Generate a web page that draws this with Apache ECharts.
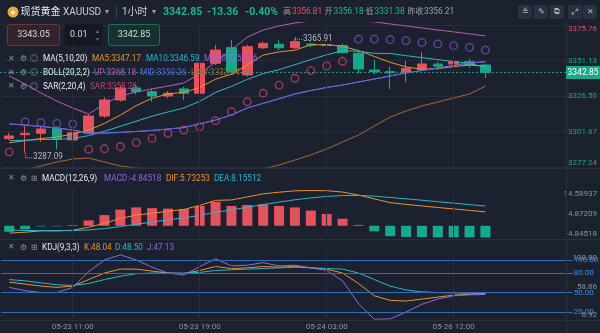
<!DOCTYPE html>
<html><head><meta charset="utf-8">
<script src="https://cdn.jsdelivr.net/npm/echarts@6/dist/echarts.min.js"></script>
<style>html,body{margin:0;padding:0;background:#1c2130;}#c{width:600px;height:333px;}</style>
</head><body><div id="c"></div>
<script>
// ---------- data ----------
const times = ['05-23 07:00','05-23 08:00','05-23 09:00','05-23 10:00','05-23 11:00','05-23 12:00','05-23 13:00','05-23 14:00','05-23 15:00','05-23 16:00','05-23 17:00','05-23 18:00','05-23 19:00','05-23 20:00','05-23 21:00','05-23 22:00','05-23 23:00','05-24 00:00','05-24 01:00','05-24 02:00','05-24 03:00','05-24 04:00','05-26 06:00','05-26 07:00','05-26 08:00','05-26 09:00','05-26 10:00','05-26 11:00','05-26 12:00','05-26 13:00','05-26 14:00'];
const emptySlots = ['05-26 15:00','05-26 16:00','05-26 17:00','05-26 18:00','05-26 19:00'];
const xTickLabels = ['05-23 11:00','05-23 19:00','05-24 03:00','05-26 12:00'];
const open  = [3296.9,3299.7,3300.6,3304.1,3296.0,3300.6,3312.6,3323.7,3332.1,3329.5,3326.5,3331.4,3328.4,3349.2,3360.0,3341.1,3360.0,3362.4,3360.0,3362.5,3362.0,3361.5,3356.18,3344.5,3343.4,3342.9,3345.0,3348.6,3348.7,3350.3,3348.0];
const close = [3298.8,3300.6,3303.6,3296.4,3301.0,3312.6,3323.7,3332.1,3329.5,3326.5,3328.4,3328.4,3349.2,3358.4,3343.4,3360.7,3363.0,3360.0,3364.2,3361.8,3361.5,3356.6,3345.2,3343.4,3342.6,3345.7,3348.7,3347.2,3350.3,3348.0,3342.85];
const low   = [3296.0,3287.09,3294.8,3289.5,3295.0,3300.0,3311.5,3322.5,3327.5,3322.5,3325.0,3323.8,3324.9,3348.0,3341.1,3340.0,3359.0,3358.4,3359.0,3360.5,3360.8,3356.0,3342.2,3341.5,3331.38,3336.0,3344.0,3344.5,3347.5,3346.0,3339.2];
const high  = [3301.0,3305.5,3306.0,3305.0,3302.5,3314.0,3325.6,3334.0,3334.5,3332.0,3330.0,3333.0,3352.9,3362.0,3365.4,3362.0,3364.5,3365.4,3365.91,3363.5,3362.5,3363.0,3357.5,3351.5,3346.8,3350.8,3356.81,3350.3,3351.5,3352.5,3349.0];
const ma5   = [3294.0,3295.5,3297.0,3298.0,3300.1,3302.8,3307.5,3313.2,3319.8,3324.9,3328.0,3329.0,3332.4,3338.2,3341.6,3348.0,3354.9,3357.1,3358.3,3362.0,3362.1,3361.0,3358.0,3353.9,3349.9,3346.7,3345.0,3345.5,3346.9,3348.0,3347.17];
const ma10  = [3295.5,3295.8,3296.3,3296.4,3297.0,3299.0,3302.0,3305.5,3309.0,3312.5,3315.4,3318.2,3322.8,3329.0,3333.2,3338.0,3342.0,3344.8,3348.2,3351.8,3355.1,3357.9,3357.6,3356.1,3356.0,3354.5,3353.1,3351.8,3350.4,3349.0,3346.59];
const ma20  = [3307.1,3306.4,3305.3,3304.3,3302.9,3300.8,3300.8,3301.2,3301.9,3302.6,3303.6,3304.6,3307.1,3309.8,3313.3,3318.2,3321.4,3324.6,3327.9,3330.3,3332.4,3334.1,3336.2,3338.3,3340.4,3342.5,3344.2,3345.9,3347.7,3349.4,3350.26];
const bollUp  = [3340.4,3334.8,3328.6,3323.0,3318.2,3314.0,3321.0,3326.5,3329.3,3331.4,3333.4,3335.5,3341.8,3350.1,3358.4,3367.4,3372.3,3375.1,3377.2,3378.6,3379.3,3379.3,3378.6,3377.9,3376.5,3375.1,3373.7,3372.3,3371.0,3369.6,3368.18];
const bollLow = [3273.8,3275.2,3277.9,3280.7,3282.8,3283.5,3280.7,3277.9,3276.5,3275.9,3275.2,3274.5,3273.8,3272.4,3272.4,3273.8,3275.9,3278.6,3282.1,3285.6,3289.7,3294.6,3299.4,3305.7,3311.9,3316.1,3319.6,3322.3,3325.1,3327.9,3333.34];
const sar   = [3287.8,3308.5,3308.0,3307.5,3307.0,3289.5,3289.9,3291.3,3294.1,3297.1,3300.6,3302.9,3305.2,3309.4,3315.6,3322.5,3328.4,3334.1,3338.8,3344.1,3347.3,3350.6,3365.91,3365.91,3365.6,3364.9,3363.7,3362.6,3361.4,3360.2,3358.26];
const macd  = [-2.5,-1.4,-0.25,-0.2,0.25,2.2,4.4,6.7,7.6,7.3,7.1,6.9,8.2,9.9,8.2,8.6,8.9,8.2,7.6,6.3,4.9,2.9,0.35,-2.3,-4.3,-4.6,-4.7,-4.8,-4.8,-4.8,-4.84518];
const dif   = [-3.03,-2.66,-2.11,-2.11,-1.86,-0.61,1.04,3.03,4.43,5.19,5.98,6.74,8.42,10.51,10.68,11.96,13.22,13.89,14.45,14.58937,14.5,13.96,12.72,11.11,9.57,8.85,8.21,7.56,6.96,6.36,5.73253];
const dea   = [-1.78,-1.96,-1.99,-2.01,-1.98,-1.71,-1.16,-0.32,0.63,1.54,2.43,3.29,4.32,5.56,6.58,7.66,8.77,9.79,10.74,11.53,12.14,12.51,12.55,12.26,11.72,11.15,10.56,9.96,9.36,8.76,8.15512];
const kLine = [66,63,60,58,60,70,80,86,86,83,80,79,84,90,87,88,90,89,90,88,86,80,64,45,38,37,40,43,46,47.5,48.04];
const dLine = [70,68,65,62,61,64,70,75,79,80,80,80,81,84,85,86,87,88,89,88,87,86,80,70,60,54,51,50,49.5,49,48.50];
const jLine = [58,53,50,50,58,82,100,108,100,89,80,77,90,102,91,92,96,91,92,88,84,68,33,8.92,9.5,20,32,40,45,46.5,47.13];
const priceTicks = [3277.24, 3301.87, 3326.50, 3351.13, 3375.76];
const macdTicks = [-4.84518, 4.87209, 14.58937];
const kdjTicks = [8.92, 58.86, 108.80];
const kdjLevels = [100, 80, 50, 20];
const lastPrice = 3342.85, prevClose = 3356.21;
const hiMark = {idx: 18, val: 3365.91}, loMark = {idx: 1, val: 3287.09};

// ---------- style ----------
const F = 'Roboto, "Noto Sans CJK SC", sans-serif';
const RED = '#e5525e', GREEN = '#16a98a', GRID = '#262c3a', GRAY = '#8c919c';
const C_MA5 = '#e8922e', C_MA10 = '#2bb5c9', C_MA20 = '#9466d6', C_UP = '#b65db5', C_MID = '#5b67d9', C_LOW = '#a8652c', C_SAR = '#c8406a', C_SARU = '#6e56c0';
const GL = 1.3, GR = 26.3, AXOFF = -7.7;

const cats = times.concat(emptySlots);
const candle = times.map((t, i) => [open[i], close[i], low[i], high[i]]);
const sarAbove = sar.map((v, i) => v > close[i] ? v : '-');
const sarBelow = sar.map((v, i) => v <= close[i] ? v : '-');
const vIdx = xTickLabels.map(t => cats.indexOf(t));
const vLines = vIdx.map(i => ({xAxis: i, label: {show: false}, lineStyle: {color: GRID, type: 'solid', width: 1}}));

function xAx(gi, showLabel) {
  return {type: 'category', gridIndex: gi, data: cats, boundaryGap: true,
    axisLine: {show: false}, axisTick: {show: false}, splitLine: {show: false},
    axisLabel: {show: showLabel, fontSize: 8, color: GRAY, margin: 4, fontFamily: F,
      interval: (idx) => vIdx.includes(idx), formatter: (v) => xTickLabels.includes(v) ? v : ''}};
}
function yAx(gi, min, max, interval, dec, colorFn, split) {
  return {type: 'value', gridIndex: gi, position: 'right', offset: AXOFF, min, max, interval, scale: true,
    axisLine: {show: false}, axisTick: {show: false},
    splitLine: {show: split, lineStyle: {color: GRID, width: 1}},
    axisLabel: {align: 'right', margin: 32, fontSize: 8, fontFamily: F, color: colorFn || GRAY,
      formatter: (v) => v.toFixed(dec), verticalAlignMinLabel: 'bottom', verticalAlignMaxLabel: 'top',
      showMinLabel: true, showMaxLabel: true}};
}
function line(name, data, color, xi, extra) {
  return Object.assign({name, type: 'line', data, xAxisIndex: xi, yAxisIndex: xi, symbol: 'none',
    lineStyle: {color, width: 1}, itemStyle: {color}, silent: true, animation: false}, extra || {});
}

const chart = echarts.init(document.getElementById('c'), null, {renderer: 'canvas'});
chart.setOption({
  backgroundColor: '#1c2130',
  animation: false,
  grid: [
    {left: GL, right: GR, top: 25, height: 142},
    {left: GL, right: GR, top: 190.5, height: 47},
    {left: GL, right: GR, top: 254.3, height: 65}
  ],
  xAxis: [xAx(0, false), xAx(1, false), xAx(2, true)],
  yAxis: [
    yAx(0, priceTicks[0], priceTicks[4], priceTicks[1] - priceTicks[0], 2, (v) => parseFloat(v) > prevClose ? RED : GREEN, true),
    yAx(1, macdTicks[0], macdTicks[2], macdTicks[1] - macdTicks[0], 5, null, false),
    yAx(2, kdjTicks[0], kdjTicks[2], kdjTicks[1] - kdjTicks[0], 2, null, false)
  ],
  series: [
    {name: 'K线', type: 'candlestick', data: candle, xAxisIndex: 0, yAxisIndex: 0, barWidth: 10,
      itemStyle: {color: RED, color0: GREEN, borderColor: RED, borderColor0: GREEN, borderWidth: 1},
      markLine: {silent: true, symbol: 'none', animation: false, data: vLines}},
    line('MA5', ma5, C_MA5, 0),
    line('MA10', ma10, C_MA10, 0),
    line('MA20', ma20, C_MA20, 0),
    line('UP', bollUp, C_UP, 0, {clip: false}),
    line('MID', ma20, C_MID, 0),
    line('LOW', bollLow, C_LOW, 0),
    {name: 'SAR↑', type: 'scatter', data: sarAbove, xAxisIndex: 0, yAxisIndex: 0, symbol: 'circle', symbolSize: 7.5,
      itemStyle: {color: 'rgba(0,0,0,0)', borderColor: C_SARU, borderWidth: 1.3}, silent: true},
    {name: 'SAR↓', type: 'scatter', data: sarBelow, xAxisIndex: 0, yAxisIndex: 0, symbol: 'circle', symbolSize: 7.5,
      itemStyle: {color: 'rgba(0,0,0,0)', borderColor: C_SAR, borderWidth: 1.3}, silent: true},
    {name: 'MACD', type: 'bar', data: macd, xAxisIndex: 1, yAxisIndex: 1, barWidth: 10,
      itemStyle: {color: (p) => p.value >= 0 ? RED : GREEN},
      markLine: {silent: true, symbol: 'none', animation: false, data: vLines}},
    line('DIF', dif, C_MA5, 1),
    line('DEA', dea, C_MA10, 1),
    line('K', kLine, C_MA5, 2, {markLine: {silent: true, symbol: 'none', animation: false,
      data: vLines.concat(kdjLevels.map(v => ({yAxis: v, lineStyle: {color: '#2f6fb8', type: 'solid', width: 1.2},
        label: {show: true, position: 'end', distance: 1, color: '#3b8ee6', fontSize: 8, fontFamily: F, formatter: () => v.toFixed(2)}})))}}),
    line('D', dLine, C_MA10, 2),
    line('J', jLine, C_MA20, 2)
  ]
});

// ---------- overlay texts ----------
function T(x, y, text, fill, size, o) {
  o = o || {};
  return {type: 'text', z: 120, silent: true, style: {x, y, text, fill, font: (o.w || 'normal') + ' ' + size + 'px ' + F,
    textAlign: o.a || 'left', align: o.a || 'left', textVerticalAlign: 'middle', verticalAlign: 'middle'}};
}
function R(x, y, w, h, fill, stroke, r) {
  return {type: 'rect', z: 110, silent: true, shape: {x, y, width: w, height: h, r: r || 0}, style: {fill, stroke: stroke || null, lineWidth: 1}};
}
function L(x1, y1, x2, y2, stroke, dash, z) {
  return {type: 'line', z: z || 105, silent: true, shape: {x1, y1, x2, y2}, style: {stroke, lineWidth: 1, lineDash: dash || null}};
}
const g = [];
g.push(R(0, 0, 600, 22, '#1c2130'));
// header
g.push({type: 'circle', z: 120, shape: {cx: 13, cy: 12, r: 5.5}, style: {fill: '#e8a93b'}});
g.push(T(13, 12.3, '◆', '#fff3d0', 5, {a: 'center'}));
g.push(T(20.5, 12, '现货黄金', '#e6e8ec', 10));
g.push(T(63, 12, 'XAUUSD', '#c9ccd3', 10));
g.push(T(107, 12, '▾', '#9aa0aa', 8, {a: 'center'}));
g.push(L(116.5, 6, 116.5, 18, '#3a4150', null, 120));
g.push(T(122, 12, '1小时', '#c9ccd3', 10));
g.push(T(154, 12, '▾', '#9aa0aa', 8, {a: 'center'}));
g.push(T(163, 12, '3342.85', '#1db48f', 10.5, {w: 'bold'}));
g.push(T(207, 12, '-13.36', '#1db48f', 10.5, {w: 'bold'}));
g.push(T(245, 12, '-0.40%', '#1db48f', 10.5, {w: 'bold'}));
g.push(T(283, 12, '高', '#9aa0aa', 8));
g.push(T(292, 12, '3356.81', RED, 8.3));
g.push(T(324.5, 12, '开', '#9aa0aa', 8));
g.push(T(333.5, 12, '3356.18', '#1db48f', 8.3));
g.push(T(365.5, 12, '低', '#9aa0aa', 8));
g.push(T(374.5, 12, '3331.38', '#1db48f', 8.3));
g.push(T(407.5, 12, '昨收', '#9aa0aa', 8));
g.push(T(424, 12, '3356.21', '#9aa0aa', 8.3));
[[518, '≙'], [534, '✎'], [550, '⧉'], [568, '⤢'], [583, '✕']].forEach(([x, s]) => {
  g.push(R(x, 5, 14, 14, '#2a3141', null, 2));
  g.push(T(x + 7, 12, s, '#aeb3bd', 8, {a: 'center'}));
});
// input boxes
g.push(R(7.5, 24.5, 52, 21, '#35232c', '#6a3440', 2));
g.push(T(33.5, 35, '3343.05', '#d9dbe0', 9, {a: 'center'}));
g.push(R(64.5, 24.5, 38, 21, '#141821', null, 2));
g.push(T(70, 35, '0.01', '#d9dbe0', 9));
g.push(T(97, 31, '▴', '#6c717c', 6, {a: 'center'}));
g.push(T(97, 39, '▾', '#6c717c', 6, {a: 'center'}));
g.push(R(108.5, 24.5, 51, 21, '#163230', '#1f6c5e', 2));
g.push(T(134, 35, '3342.85', '#d9dbe0', 9, {a: 'center'}));
// indicator legends
function icons(y, three) {
  g.push(T(11, y, '✕', GRAY, 7.5, {a: 'center'}));
  g.push(T(23, y, '⚙', GRAY, 8, {a: 'center'}));
  g.push(T(34, y, three ? '⊞' : '◎', GRAY, 8, {a: 'center'}));
}
icons(59, false);
g.push(T(43, 59, 'MA(5,10,20)', '#e6e8ec', 8.2));
g.push(T(92, 59, 'MA5:3347.17', C_MA5, 8.2));
g.push(T(146, 59, 'MA10:3346.59', C_MA10, 8.2));
g.push(T(204, 59, 'MA20:3350.26', C_MA20, 8.2));
icons(73, false);
g.push(T(43, 73, 'BOLL(20,2,2)', '#e6e8ec', 8.2));
g.push(T(94, 73, 'UP:3368.18', C_UP, 8.2));
g.push(T(140, 73, 'MID:3350.26', C_MID, 8.2));
g.push(T(191, 73, 'LOW:3333.34', C_LOW, 8.2));
icons(86.5, false);
g.push(T(43, 86.5, 'SAR(2,20,4)', '#e6e8ec', 8.2));
g.push(T(90, 86.5, 'SAR:3358.26', C_SAR, 8.2));
icons(178.5, true);
g.push(T(42, 178.5, 'MACD(12,26,9)', '#e6e8ec', 8.2));
g.push(T(104, 178.5, 'MACD:-4.84518', C_MA20, 8.2));
g.push(T(166, 178.5, 'DIF:5.73253', C_MA5, 8.2));
g.push(T(214, 178.5, 'DEA:8.15512', C_MA10, 8.2));
icons(247.5, true);
g.push(T(42, 247.5, 'KDJ(9,3,3)', '#e6e8ec', 8.2));
g.push(T(84, 247.5, 'K:48.04', C_MA5, 8.2));
g.push(T(115, 247.5, 'D:48.50', C_MA10, 8.2));
g.push(T(147, 247.5, 'J:47.13', C_MA20, 8.2));
// separators
g.push(L(566.5, 22, 566.5, 333, '#2a3040'));
g.push(L(0, 168.5, 600, 168.5, '#2a3040'));
g.push(L(0, 239.5, 600, 239.5, '#2a3040'));
g.push(L(0, 320.5, 600, 320.5, '#2a3040'));
// last price line & tag
const pp = chart.convertToPixel({xAxisIndex: 0, yAxisIndex: 0}, [times[30], lastPrice]);
g.push(L(0, pp[1], 566, pp[1], '#1a9c80', [2, 2], 60));
g.push(R(566, pp[1] - 6.5, 34, 13, '#16a98a'));
g.push(T(583, pp[1], lastPrice.toFixed(2), '#ffffff', 8.5, {a: 'center'}));
// high / low marks
const ph = chart.convertToPixel({xAxisIndex: 0, yAxisIndex: 0}, [times[hiMark.idx], hiMark.val]);
g.push(L(ph[0] + 0.5, ph[1] - 2, ph[0] + 0.5, ph[1] + 1, '#9aa0aa', [1, 1]));
g.push(L(ph[0], ph[1], ph[0] + 7, ph[1], '#9aa0aa', [1, 1]));
g.push(T(ph[0] + 8, ph[1], hiMark.val.toFixed(2), '#b4b8c0', 8.2));
const pl = chart.convertToPixel({xAxisIndex: 0, yAxisIndex: 0}, [times[loMark.idx], loMark.val]);
g.push(L(pl[0] + 0.5, pl[1], pl[0] + 0.5, pl[1] + 5, '#9aa0aa', [1, 1]));
g.push(L(pl[0], pl[1] + 5, pl[0] + 7, pl[1] + 5, '#9aa0aa', [1, 1]));
g.push(T(pl[0] + 8, pl[1] + 4.5, loMark.val.toFixed(2), '#b4b8c0', 8.2));
chart.setOption({graphic: {elements: g}});
</script></body></html>
